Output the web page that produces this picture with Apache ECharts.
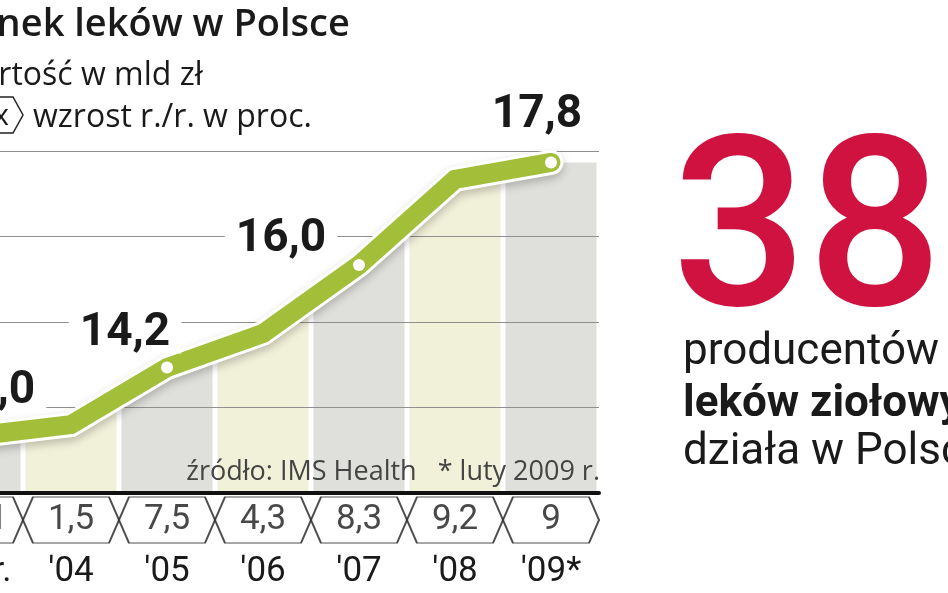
<!DOCTYPE html>
<html>
<head>
<meta charset="utf-8">
<script src="https://cdn.jsdelivr.net/npm/echarts@6/dist/echarts.min.js"></script>
<style>
  html, body { margin: 0; padding: 0; background: #fff; overflow: hidden; }
  /* wykres jest przyciety z lewej strony, tak jak w oryginale */
  #chart { position: absolute; left: -80px; top: 0; width: 1028px; height: 593px; }
</style>
</head>
<body>
<div id="chart"></div>
<script>
// dane
var years = ["'03 r.", "'04", "'05", "'06", "'07", "'08", "'09*"];
var marketValue = [13.0, 13.2, 14.2, 14.8, 16.0, 17.5, 17.8];   // mld zł
var growthPct = [10.1, 1.5, 7.5, 4.3, 8.3, 9.2, 9];            // r./r. w proc.
var stripeTop = [18, 18, 18, 18, 18, 18, 17.8];
var labelledIdx = [0, 2, 4, 6];
var yMin = 12, yMax = 18, yStep = 1.5;

var FONT = 'Roboto, "Noto Sans", sans-serif';
var FONT2 = '"Open Sans", Roboto, sans-serif';
var green = '#a3bf3a';
var ink = '#1a1a1a';

// przesuniecia etykiet wartosci wzgledem punktu
var labelShift = { 0: [15, -45], 2: [-42, -34], 4: [-78, -26], 6: [-14, -47] };

function comma1(v) { return v.toFixed(1).replace('.', ','); }
function pct(v) { return v % 1 === 0 ? String(v) : comma1(v); }

var chart = echarts.init(document.getElementById('chart'));

var lineData = marketValue.map(function (v, i) {
  if (labelledIdx.indexOf(i) >= 0) {
    return {
      value: v,
      symbol: 'circle',
      symbolSize: 12,
      label: { show: true, position: 'inside', offset: labelShift[i] }
    };
  }
  return { value: v, symbol: 'none' };
});

var gridLeft = 7, gridWidth = 672;
var X0 = 80; // przesuniecie kontenera

var option = {
  backgroundColor: '#fff',
  animation: false,
  grid: [
    { left: gridLeft, width: gridWidth, top: 151, height: 342 },
    { left: gridLeft, width: gridWidth, top: 497, height: 46 }
  ],
  xAxis: [
    {
      type: 'category', gridIndex: 0, data: years, z: 3,
      axisLine: { lineStyle: { color: '#111', width: 4 } },
      axisTick: { show: false },
      axisLabel: { interval: 0, margin: 62, fontSize: 35, color: ink, fontFamily: FONT }
    },
    {
      type: 'category', gridIndex: 1, data: years, show: false
    }
  ],
  yAxis: [
    {
      type: 'value', gridIndex: 0, min: yMin, max: yMax, interval: yStep, z: 3,
      axisLine: { show: false }, axisTick: { show: false }, axisLabel: { show: false },
      splitLine: { lineStyle: { color: '#8f8f8f', width: 1 } }
    },
    { type: 'value', gridIndex: 1, min: -1, max: 1, show: false }
  ],
  series: [
    {
      type: 'bar', z: 1, barWidth: 91,
      data: stripeTop,
      itemStyle: {
        color: function (p) { return p.dataIndex % 2 === 0 ? '#dfdfdb' : '#f1f0d8'; }
      },
      silent: true
    },
    {
      // biale tlo nad linia - przycina pasy
      type: 'line', z: 2, data: marketValue, symbol: 'none',
      lineStyle: { width: 0 },
      areaStyle: { color: '#fff', opacity: 1, origin: 'end' },
      silent: true
    },
    {
      // biala obwodka linii
      type: 'line', z: 4, data: marketValue, symbol: 'none',
      lineStyle: {
        color: '#fff', width: 25, join: 'miter', cap: 'round',
        shadowColor: 'rgba(0,0,0,0.22)', shadowBlur: 8, shadowOffsetY: 4
      },
      silent: true
    },
    {
      type: 'line', z: 5, data: lineData,
      lineStyle: { color: green, width: 19, join: 'miter', cap: 'round' },
      itemStyle: { color: '#fff', borderWidth: 0 },
      label: {
        fontFamily: FONT, fontSize: 46, fontWeight: 'bold', color: ink,
        backgroundColor: '#fff', padding: [0, 11], lineHeight: 40,
        formatter: function (p) { return comma1(p.value); }
      }
    },
    {
      type: 'scatter', xAxisIndex: 1, yAxisIndex: 1, z: 3,
      data: growthPct.map(function (g, i) { return [i, 0, g]; }),
      symbol: 'path://M10,0L86,0L96,23L86,46L10,46L0,23Z',
      symbolSize: [96, 46],
      itemStyle: { color: '#fff', borderColor: '#222', borderWidth: 1.5 },
      label: {
        show: true, position: 'inside', fontFamily: FONT, fontSize: 35, color: ink,
        formatter: function (p) { return pct(p.value[2]); }
      },
      silent: true
    }
  ],
  graphic: [
    { type: 'text', style: { text: 'Rynek leków w Polsce', x: X0 - 48, y: 25, font: '600 38px ' + FONT2, fill: ink, textVerticalAlign: 'middle' } },
    { type: 'text', style: { text: 'Wartość w mld zł', x: X0 - 49, y: 76, font: '32px ' + FONT2, fill: ink, textVerticalAlign: 'middle' } },
    { type: 'polygon', shape: { points: [[X0 - 25, 97], [X0 + 13, 97], [X0 + 23, 115], [X0 + 13, 133], [X0 - 25, 133], [X0 - 35, 115]] },
      style: { fill: '#fff', stroke: '#222', lineWidth: 1.5 } },
    { type: 'text', style: { text: 'x', x: X0 + 1, y: 116, font: '30px ' + FONT2, fill: ink, textAlign: 'center', textVerticalAlign: 'middle' } },
    { type: 'text', style: { text: 'wzrost r./r. w proc.', x: X0 + 33, y: 118, font: '32px ' + FONT2, fill: ink, textVerticalAlign: 'middle' } },
    { type: 'text', z: 10, style: { text: 'źródło: IMS Health   * luty 2009 r.', x: X0 + 600, y: 472, font: '27px ' + FONT2, fill: '#444', textAlign: 'right', textVerticalAlign: 'middle' } },
    { type: 'text', style: { text: '38', x: X0 + 672, y: 245, font: '500 238px ' + FONT, fill: '#cf1240', textVerticalAlign: 'middle' } },
    { type: 'text', style: { text: 'producentów', x: X0 + 683, y: 353, font: '44px ' + FONT, fill: ink, textVerticalAlign: 'middle' } },
    { type: 'text', style: { text: 'leków ziołowych', x: X0 + 683, y: 405, font: 'bold 44px ' + FONT, fill: ink, textVerticalAlign: 'middle' } },
    { type: 'text', style: { text: 'działa w Polsce.', x: X0 + 683, y: 453, font: '44px ' + FONT, fill: ink, textVerticalAlign: 'middle' } }
  ]
};

chart.setOption(option);
</script>
</body>
</html>
